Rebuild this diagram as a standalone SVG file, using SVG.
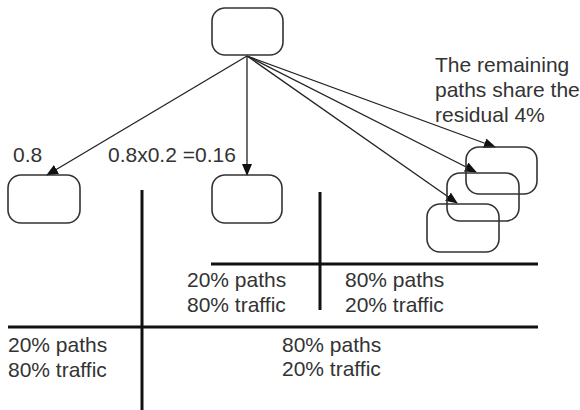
<svg xmlns="http://www.w3.org/2000/svg" width="580" height="410" viewBox="0 0 580 410">
<style>
.node{fill:none;stroke:#333;stroke-width:1.6}
.edge{stroke:#222;stroke-width:1.3;fill:none;marker-end:url(#arr)}
.axis{stroke:#111;stroke-width:3;fill:none}
text{font-family:"Liberation Sans",Arial,sans-serif;font-size:21px;fill:#333}
</style>
<defs>
<marker id="arr" markerWidth="12" markerHeight="10" refX="11" refY="5" orient="auto" markerUnits="userSpaceOnUse">
<path d="M0,0 L12,5 L0,10 z" fill="#111"/>
</marker>
</defs>
<rect width="580" height="410" fill="#fff"/>
<g id="connectors">
<line class="edge" x1="247" y1="56" x2="47" y2="175"/>
<line class="edge" x1="247" y1="56" x2="247" y2="175"/>
<line class="edge" x1="247" y1="56" x2="495" y2="147"/>
<line class="edge" x1="247" y1="56" x2="476" y2="172"/>
<line class="edge" x1="247" y1="56" x2="457" y2="203"/>
</g>
<g id="root"><rect class="node" x="212" y="8" width="71" height="47" rx="13"/></g>
<g id="left"><rect class="node" x="8" y="175" width="72" height="48" rx="13"/></g>
<g id="middle"><rect class="node" x="212" y="175" width="70" height="48" rx="13"/></g>
<g id="rest1"><rect class="node" x="466" y="147" width="71" height="47" rx="13"/></g>
<g id="rest2"><rect class="node" x="447" y="173" width="72" height="48" rx="13"/></g>
<g id="rest3"><rect class="node" x="427" y="204" width="72" height="48" rx="13"/></g>
<g id="labels">
<text x="13" y="162">0.8</text>
<text x="108" y="162">0.8x0.2 =0.16</text>
<text x="435" y="72">The remaining</text>
<text x="435" y="97">paths share the</text>
<text x="435" y="122">residual 4%</text>
</g>
<g id="quadrants">
<line class="axis" x1="142" y1="190" x2="142" y2="410"/>
<line class="axis" x1="8" y1="327" x2="538" y2="327"/>
<line class="axis" x1="211" y1="264" x2="538" y2="264"/>
<line class="axis" x1="320" y1="192" x2="320" y2="310"/>
<text x="187" y="287">20% paths</text>
<text x="187" y="312">80% traffic</text>
<text x="345" y="287">80% paths</text>
<text x="345" y="312">20% traffic</text>
<text x="8" y="352">20% paths</text>
<text x="8" y="377">80% traffic</text>
<text x="282" y="352">80% paths</text>
<text x="282" y="376">20% traffic</text>
</g>
</svg>
